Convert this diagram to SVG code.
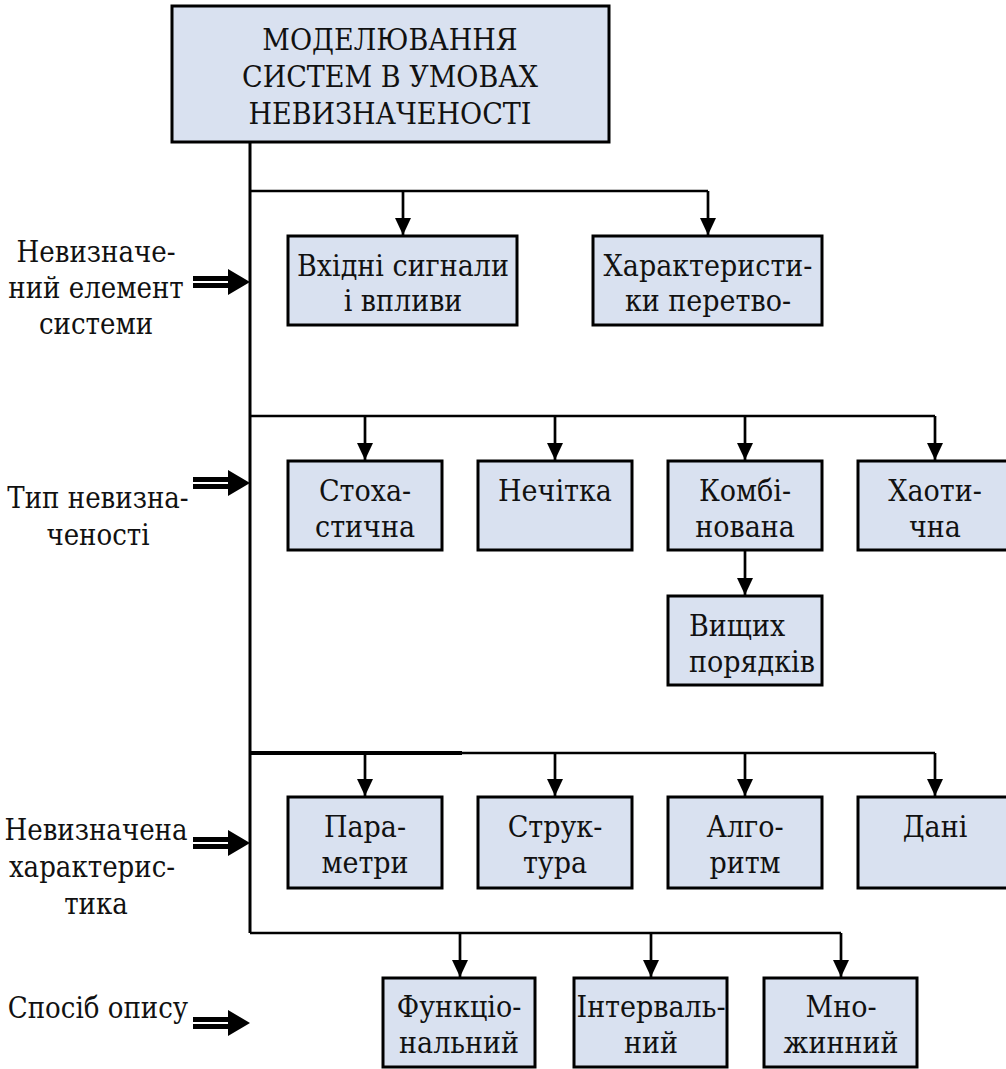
<svg xmlns="http://www.w3.org/2000/svg" width="1006" height="1069" viewBox="0 0 1006 1069">
<style>
  .box { fill: #d9e1f0; stroke: #000; stroke-width: 3; }
  text { font-family: 'DejaVu Serif', serif; font-stretch: condensed; font-size: 30px; fill: #111; }
  .t { text-anchor: middle; }
  .ts { text-anchor: start; }
  .lbl { font-size: 29px; text-anchor: middle; }
  .ln { fill: none; stroke: #000; stroke-width: 2.7; }
  .ar { fill: none; stroke: #000; stroke-width: 2.7; marker-end: url(#ah); }
</style>
<defs>
  <marker id="ah" markerUnits="userSpaceOnUse" markerWidth="18" markerHeight="16" refX="17" refY="8" orient="auto">
    <path d="M0,0 L17,8 L0,16 z" fill="#000"/>
  </marker>
  <g id="dbl">
    <rect x="0" y="-6" width="37" height="5" fill="#000"/>
    <rect x="0" y="1" width="37" height="5" fill="#000"/>
    <polygon points="35,-13 57,0 35,13" fill="#000"/>
  </g>
</defs>
<rect width="1006" height="1069" fill="#fff"/>

<g id="connectors">
  <path class="ln" d="M250,142 V933" style="stroke-width:3"/>
  <path class="ln" d="M250,191 H708"/>
  <path class="ar" d="M403,191 V235"/>
  <path class="ar" d="M708,191 V235"/>
  <path class="ln" d="M250,416 H935"/>
  <path class="ar" d="M365,416 V460"/>
  <path class="ar" d="M555,416 V460"/>
  <path class="ar" d="M745,416 V460"/>
  <path class="ar" d="M935,416 V460"/>
  <path class="ar" d="M745,550 V595"/>
  <path class="ln" d="M250,753 H935"/>
  <path class="ln" d="M250,753 H462" style="stroke-width:4"/>
  <path class="ar" d="M365,753 V796"/>
  <path class="ar" d="M555,753 V796"/>
  <path class="ar" d="M745,753 V796"/>
  <path class="ar" d="M935,753 V796"/>
  <path class="ln" d="M250,933 H841"/>
  <path class="ar" d="M460,933 V977"/>
  <path class="ar" d="M651,933 V977"/>
  <path class="ar" d="M841,933 V977"/>
  <use href="#dbl" x="193" y="282"/>
  <use href="#dbl" x="193" y="483"/>
  <use href="#dbl" x="193" y="843"/>
  <use href="#dbl" x="193" y="1023"/>
</g>

<g id="root">
  <rect class="box" x="172" y="6" width="437" height="136"/>
  <text class="t" x="390" y="50">МОДЕЛЮВАННЯ</text>
  <text class="t" x="390" y="87">СИСТЕМ В УМОВАХ</text>
  <text class="t" x="390" y="124">НЕВИЗНАЧЕНОСТІ</text>
</g>

<g id="label-element">
  <text class="lbl" x="96" y="262">Невизначе-</text>
  <text class="lbl" x="96" y="298">ний елемент</text>
  <text class="lbl" x="96" y="334">системи</text>
</g>
<g id="label-type">
  <text class="lbl" x="98" y="508">Тип невизна-</text>
  <text class="lbl" x="98" y="545">ченості</text>
</g>
<g id="label-char">
  <text class="lbl" x="96" y="840">Невизначена</text>
  <text class="lbl" x="92" y="877">характерис-</text>
  <text class="lbl" x="96" y="914">тика</text>
</g>
<g id="label-method">
  <text class="lbl" x="98" y="1018">Спосіб опису</text>
</g>

<g id="n-inputs">
  <rect class="box" x="288" y="236" width="229" height="89"/>
  <text class="t" x="403" y="276">Вхідні сигнали</text>
  <text class="t" x="403" y="311">і впливи</text>
</g>
<g id="n-transform">
  <rect class="box" x="593" y="236" width="229" height="89"/>
  <text class="t" x="708" y="276">Характеристи-</text>
  <text class="t" x="708" y="311">ки перетво-</text>
</g>

<g id="n-stochastic">
  <rect class="box" x="288" y="461" width="154" height="89"/>
  <text class="t" x="365" y="501">Стоха-</text>
  <text class="t" x="365" y="537">стична</text>
</g>
<g id="n-fuzzy">
  <rect class="box" x="478" y="461" width="154" height="89"/>
  <text class="t" x="555" y="501">Нечітка</text>
</g>
<g id="n-combined">
  <rect class="box" x="668" y="461" width="154" height="89"/>
  <text class="t" x="745" y="501">Комбі-</text>
  <text class="t" x="745" y="537">нована</text>
</g>
<g id="n-chaotic">
  <rect class="box" x="858" y="461" width="160" height="89"/>
  <text class="t" x="935" y="501">Хаоти-</text>
  <text class="t" x="935" y="537">чна</text>
</g>
<g id="n-higher">
  <rect class="box" x="668" y="596" width="154" height="89"/>
  <text class="ts" x="689" y="636">Вищих</text>
  <text class="ts" x="689" y="672">порядків</text>
</g>

<g id="n-params">
  <rect class="box" x="288" y="797" width="154" height="91"/>
  <text class="t" x="365" y="837">Пара-</text>
  <text class="t" x="365" y="873">метри</text>
</g>
<g id="n-structure">
  <rect class="box" x="478" y="797" width="154" height="91"/>
  <text class="t" x="555" y="837">Струк-</text>
  <text class="t" x="555" y="873">тура</text>
</g>
<g id="n-algorithm">
  <rect class="box" x="668" y="797" width="154" height="91"/>
  <text class="t" x="745" y="837">Алго-</text>
  <text class="t" x="745" y="873">ритм</text>
</g>
<g id="n-data">
  <rect class="box" x="858" y="797" width="160" height="91"/>
  <text class="t" x="935" y="837">Дані</text>
</g>

<g id="n-functional">
  <rect class="box" x="383" y="978" width="152" height="89"/>
  <text class="t" x="459" y="1017">Функціо-</text>
  <text class="t" x="459" y="1053">нальний</text>
</g>
<g id="n-interval">
  <rect class="box" x="574" y="978" width="153" height="89"/>
  <text class="t" x="651" y="1017">Інтерваль-</text>
  <text class="t" x="651" y="1053">ний</text>
</g>
<g id="n-set">
  <rect class="box" x="764" y="978" width="153" height="89"/>
  <text class="t" x="841" y="1017">Мно-</text>
  <text class="t" x="841" y="1053">жинний</text>
</g>
</svg>
